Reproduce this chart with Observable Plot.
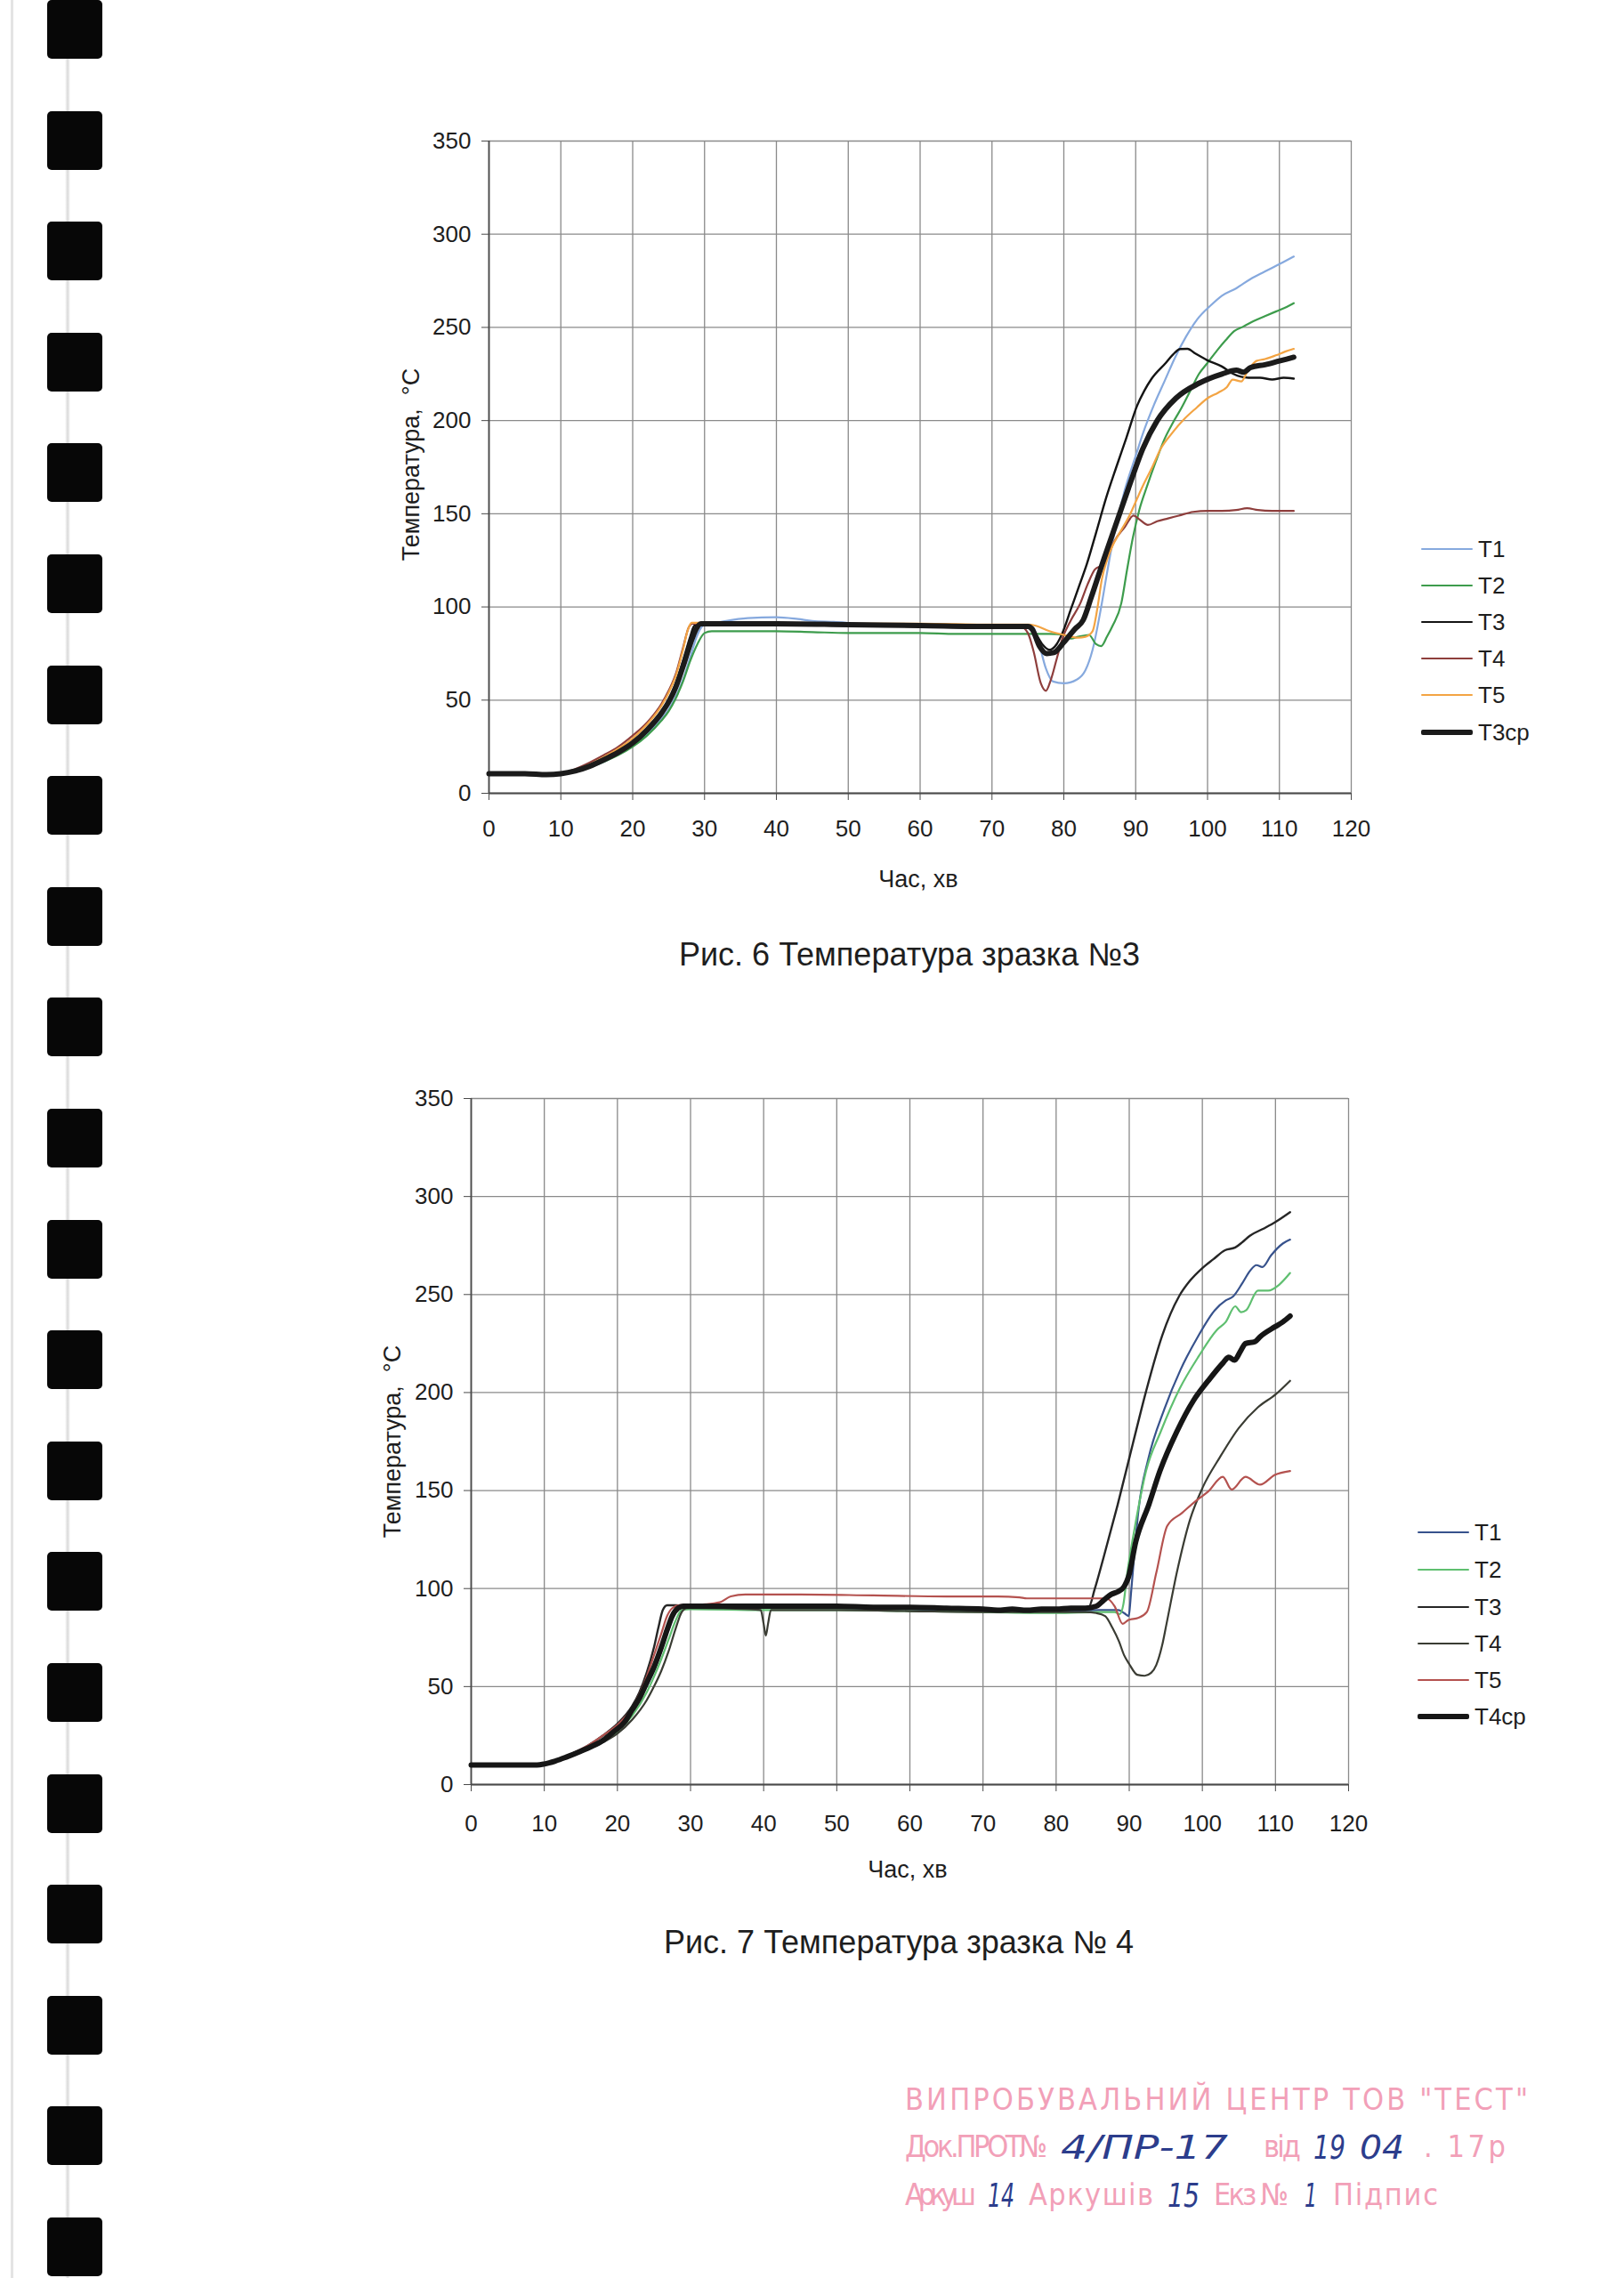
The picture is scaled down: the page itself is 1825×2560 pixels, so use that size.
<!DOCTYPE html>
<html>
<head>
<meta charset="utf-8">
<script src="https://cdn.jsdelivr.net/npm/d3@7"></script>
<script src="https://cdn.jsdelivr.net/npm/@observablehq/plot@0.6"></script>
<style>
  body { margin: 0; background: #fff; }
  #page { position: relative; width: 1825px; height: 2560px; overflow: hidden; background: #fff;
          font-family: "Liberation Sans", Arial, sans-serif; color: #1e1e1e; }
  .hole { position: absolute; left: 53px; width: 62px; height: 66px; background: #070707; border-radius: 5px; }
  .txt { position: absolute; white-space: pre; transform: translate(-50%, -50%); }
  .leg { position: absolute; white-space: nowrap; font-size: 26px; transform: translateY(-50%); }
  .legline { position: absolute; }
  .chart { position: absolute; }
</style>
</head>
<body>
<div id="page"></div>
<script>
// ---------- tick labels ----------
const xTicks = [0, 10, 20, 30, 40, 50, 60, 70, 80, 90, 100, 110, 120];
const yTicks = [0, 50, 100, 150, 200, 250, 300, 350];

// ---------- Рис. 6 (зразок №3): [час, хв ; температура, °C] ----------
const fig6_T1 = [[0,10.5],[5,10.5],[8,10],[10,10.5],[12,12],[14,14],[16,17],[18,21],[20,25.5],[22,32],[24,40],[25,45],[26,52],[27,61],[28,73],[29,85],[29.8,90],[31,91],[33,92.5],[36,94],[40,94.5],[43,93.5],[45,92.5],[48,92],[52,91],[60,90.5],[70,90],[75.5,90],[76.5,81],[77.5,67],[78.5,60],[80,59],[81.8,61],[83,66],[84,77],[85.2,100],[86,118],[86.9,137],[88.5,163],[90,181],[91,193],[92.5,208],[94,221],[95.5,234],[97,245],[98.5,254],[100.5,262],[102,267],[104,271],[106,276],[108,280],[110,284],[112,288]];
const fig6_T2 = [[0,10.5],[5,10.5],[8,10],[10,10.5],[12,12],[14,14],[16,17],[18,20.5],[20,25],[22,31],[24,39],[25,44],[26,51],[27,60],[28,71],[29,80],[30,86],[31,87],[40,87],[45,86.5],[50,86],[55,86],[60,86],[65,85.5],[70,85.5],[75,85.5],[78,85.5],[80,85],[81,83],[82,84],[83.5,85],[84.5,80],[85.2,79],[86,84],[86.8,90],[88,102],[88.8,120],[89.6,137],[90.5,152],[91.6,165],[92.8,178],[94,190],[95.2,199],[96.4,207],[97.6,216],[98.8,225],[100,231],[101.3,237.5],[102.5,243],[103.7,248],[105,250.5],[106.5,253.5],[108,256],[109.5,258.5],[111,261],[112,263]];
const fig6_T3 = [[0,10.5],[5,10.5],[8,10],[10,10.5],[12,12],[14,14.5],[16,18],[18,22.5],[20,27.5],[22,35],[24,44],[25,50],[26,59],[27,71],[28,84],[28.6,90],[30,90.5],[40,90.5],[50,90],[60,89.5],[70,89],[75,89],[76,86],[77,80],[78,77],[79,80],[79.8,86],[81,99],[82.2,112],[83.2,123],[84.5,140],[85.9,158.7],[87.3,175],[88.7,190.7],[90.2,208],[91.2,216],[92.2,222.4],[94.2,231],[95.2,235.5],[96.2,238.4],[97.2,238.5],[98.3,236],[99.9,232.5],[102,229],[103.6,225],[105.7,223],[107.3,223],[109,222],[110.6,223],[112,222.5]];
const fig6_T4 = [[0,10.5],[5,10.5],[8,10],[10,10.5],[12,13],[14,16.5],[16,20.5],[18,25],[20,31],[22,38],[24,48],[25,55],[26,64],[27,78],[27.8,89],[28.3,91],[30,91],[40,91],[50,90.5],[60,90],[70,89.5],[74,89.5],[75,86],[75.8,76],[76.8,59],[77.5,55],[78.2,61],[79,72],[79.8,83],[81,93],[82.3,102],[83.3,112],[84.3,120],[85.5,123],[86.2,128],[87,135],[88.5,143],[89.7,149],[90.5,147],[91.7,144],[93,146],[94.5,147.5],[96,149],[98,151],[100,151.5],[102,151.5],[104,152],[105.5,153],[107,152],[109,151.5],[112,151.5]];
const fig6_T5 = [[0,10.5],[5,10.5],[8,10],[10,10.5],[12,12.5],[14,15.5],[16,19.5],[18,24],[20,29.5],[22,37],[24,47],[25,54],[26,63],[27,77],[27.7,88],[28.2,91.5],[30,91.5],[40,91.5],[50,91],[60,91],[70,90.5],[75,90.5],[76,90],[78,87],[80,85],[82,83.5],[83,84],[84,87],[84.7,100],[85.3,115],[86,125],[86.8,133],[87.5,138],[89,148],[91,165],[92.3,175],[93.5,185],[95,193],[96.8,201],[98.5,207],[100,212],[101.5,215],[102.7,218],[103.5,222],[104.7,221],[105.5,226],[106.8,232],[108,233],[109.5,235],[110.8,237],[112,238.5]];
const fig6_T3cp = [[0,10.5],[5,10.5],[8,10],[10,10.5],[12,12],[14,14.5],[16,18],[18,22],[20,27],[22,34],[24,43],[25,49],[26,57],[27,68],[28,80],[28.8,88],[29.5,91],[31,91],[40,91],[50,90.5],[60,90],[70,89.5],[75,89.5],[75.6,88],[76.6,79],[77.6,75],[78.6,75.5],[80,81],[81.5,88],[82.7,93],[83.8,105],[85.6,126],[87.4,146],[89.2,166],[91,185],[93,200],[95.6,212],[98.8,220],[102,225],[104,227],[105,226],[106,228.5],[108,230],[110,232],[112,234]];

// ---------- Рис. 7 (зразок №4) ----------
const fig7_T1 = [[0,10],[5,10],[9,10],[10,10.5],[13,14],[16,19],[18,23],[20,28.5],[22,37],[24,50],[25,58],[26,68],[27,79],[28,88],[28.8,90.5],[30,90.5],[40,90.5],[50,90],[60,89.5],[70,88.5],[80,88.5],[86,89],[88.5,89],[89.3,87.5],[89.9,86],[90.3,100],[90.7,118],[91.3,141],[92.6,166],[94.8,191.5],[97,211.5],[99.4,228.6],[101.7,242],[103.2,247],[104.2,249],[105.5,256],[106.5,262],[107.4,265],[108.2,264],[109.4,270],[111,276],[112,278]];
const fig7_T2 = [[0,10],[5,10],[9,10],[10,10.5],[13,14],[16,18.5],[18,22],[20,27],[22,35],[24,47],[25,55],[26,64],[27,74],[28,84],[28.8,89],[30,89.5],[40,89],[50,89],[60,88.5],[70,88],[80,87.5],[86,88],[88,88],[88.7,87],[89.2,92],[89.7,107],[90.8,132],[92.3,160],[94.3,180],[96.9,202],[99.5,218.5],[102,232],[103.2,236],[104.5,244],[105.3,241],[106,242],[107.6,252],[109,252],[110.5,255],[112,261]];
const fig7_T3 = [[0,10],[5,10],[9,10],[10,10.5],[13,14.5],[16,20],[18,25],[20,31],[22,40],[23,47],[24,57],[25,70],[25.6,80],[26.2,89],[26.8,91.5],[28,91.5],[30,91],[40,91],[50,90.5],[60,90],[70,89.5],[80,89],[84.4,90],[85.3,100],[86.5,116],[88.4,142.5],[90.5,174],[92.3,200.6],[94.5,229],[96.8,249],[98.3,257],[100,263.5],[101.5,268],[103.1,272.6],[104.5,274],[105.5,276.8],[106.5,280],[108.3,283.5],[110,287],[112,292]];
const fig7_T4 = [[0,10],[5,10],[9,10],[10,10.5],[13,13.5],[16,18],[18,21.5],[20,26],[22,33],[24,43],[25,50],[26,58],[27,68],[28,80],[28.8,88],[29.5,90],[31,90],[38,89.5],[39.6,89],[40,82],[40.3,76],[40.6,82],[41,89],[50,89],[60,88.5],[70,88],[80,88],[84,88],[85.5,87.5],[86.7,86],[87.7,80],[88.6,73],[89.3,66],[90,61.5],[91.1,56],[92.1,55.5],[93,57],[93.7,61],[94.5,71],[95.1,82],[96.5,108],[98.3,135],[100.1,152],[102.4,167],[105,182],[107.6,192.5],[110,199],[112,206]];
const fig7_T5 = [[0,10],[5,10],[9,10],[10,10.5],[13,14.5],[16,20],[18,25],[20,30.5],[22,39],[23,46],[24,55],[25,66],[26,77],[26.8,86],[27.5,90],[28.5,91.5],[32,92],[34,93],[35.5,96],[37.5,97],[45,97],[55,96.5],[65,96],[72,96],[75,95.5],[76,95],[86.8,95],[88,91],[89.1,82],[89.9,84],[91.2,85],[92.4,88],[93.7,108],[95.2,132],[97.2,138.5],[99.2,145],[100.8,149.5],[102.8,157],[104,150.5],[105.9,157],[107.9,153],[109.9,158],[112,160]];
const fig7_T4cp = [[0,10],[5,10],[9,10],[10,10.5],[11.5,12],[13,14],[15,17],[16.5,19.5],[18,22.5],[19.5,27],[21,32],[22,38],[23,44],[24,52],[25,60],[26,70],[26.8,79],[27.5,86],[28.3,90],[29,91],[30,91],[40,91],[50,91],[55,90.5],[60,90.5],[65,90],[70,89.5],[72,89],[74,89.5],[76,89],[78,89.5],[80,89.5],[82,90],[84,90],[85.5,91],[86.5,94],[87.5,97],[88.5,98.5],[89.3,101],[89.9,106],[90.9,124],[92.7,143],[94.2,160],[96.5,180],[98.8,196],[100.8,206],[102.8,215],[103.6,218],[104.4,216.5],[105.2,221],[105.9,225],[107.2,226],[107.9,228.5],[109.9,233.5],[111,236],[112,239]];

// ---------- series names / colours ----------
const fig6_names = ["T1", "T2", "T3", "T4", "T5", "T3ср"];
const fig6_colors = ["#86a9de", "#3d9c4c", "#141414", "#8e3e3c", "#f3a443", "#1b1b1b"];
const fig7_names = ["T1", "T2", "T3", "T4", "T5", "T4ср"];
const fig7_colors = ["#37528c", "#5fbf70", "#262626", "#3a3c33", "#b4524f", "#161616"];
const widths = [2.2, 2.2, 2.4, 2.2, 2.2, 6];

const page = document.getElementById("page");

// binding holes and scan edge (decoration)
const edge = document.createElement("div");
edge.style.cssText = "position:absolute;left:12px;top:0;width:3px;height:2560px;background:#e4e4e4";
page.appendChild(edge);
const stripe = document.createElement("div");
stripe.style.cssText = "position:absolute;left:73px;top:0;width:6px;height:2560px;background:linear-gradient(90deg,#fff,#d9d9d9,#fff)";
page.appendChild(stripe);
for (let k = 0; k < 21; k++) {
  const h = document.createElement("div");
  h.className = "hole";
  h.style.top = (k * 124.6) + "px";
  page.appendChild(h);
}

function addText(txt, x, y, size, rotate) {
  const d = document.createElement("div");
  d.className = "txt";
  d.textContent = txt;
  d.style.left = x + "px";
  d.style.top = y + "px";
  d.style.fontSize = size + "px";
  if (rotate) d.style.transform = "translate(-50%,-50%) rotate(-90deg)";
  page.appendChild(d);
}

function makeChart(cfg) {
  const marks = [
    Plot.gridX({ticks: xTicks, stroke: "#8a8a8a", strokeOpacity: 1, strokeWidth: 1.3}),
    Plot.gridY({ticks: yTicks, stroke: "#8a8a8a", strokeOpacity: 1, strokeWidth: 1.3}),
    Plot.ruleX([0], {stroke: "#4a4a4a", strokeWidth: 1.8}),
    Plot.ruleY([0], {stroke: "#4a4a4a", strokeWidth: 1.8}),
    Plot.axisX({ticks: xTicks, tickSize: 8, tickPadding: cfg.xPad, label: null, stroke: "#4a4a4a", fontSize: 26}),
    Plot.axisY({ticks: yTicks, tickSize: 8, tickPadding: 12, label: null, stroke: "#4a4a4a", fontSize: 26})
  ];
  cfg.series.forEach((s, i) => {
    marks.push(Plot.line(s, {x: d => d[0], y: d => d[1], stroke: cfg.colors[i], strokeWidth: widths[i],
      curve: "monotone-x", strokeLinejoin: "round", strokeLinecap: "round"}));
  });
  const svg = Plot.plot({
    width: cfg.width, height: cfg.height,
    marginLeft: cfg.mL, marginRight: cfg.mR, marginTop: cfg.mT, marginBottom: cfg.mB,
    x: {domain: [0, 120]},
    y: {domain: [0, 350]},
    style: {fontSize: "26px", fontFamily: "'Liberation Sans', Arial, sans-serif", color: "#1e1e1e", background: "transparent", overflow: "visible"},
    marks
  });
  svg.classList.add("chart");
  svg.style.left = cfg.left + "px";
  svg.style.top = cfg.top + "px";
  page.appendChild(svg);

  // legend
  cfg.names.forEach((n, i) => {
    const y = cfg.legY[i];
    const ln = document.createElement("div");
    ln.className = "legline";
    ln.style.left = cfg.legX + "px";
    ln.style.width = "58px";
    ln.style.top = (y - widths[i] / 2) + "px";
    ln.style.height = widths[i] + "px";
    ln.style.background = cfg.colors[i];
    ln.style.borderRadius = "2px";
    page.appendChild(ln);
    const t = document.createElement("div");
    t.className = "leg";
    t.textContent = n;
    t.style.left = (cfg.legX + 64) + "px";
    t.style.top = y + "px";
    page.appendChild(t);
  });
  addText("Час, хв", cfg.xTitle[0], cfg.xTitle[1], 27);
  addText("Температура,  °C", cfg.yTitle[0], cfg.yTitle[1], 27, true);
  addText(cfg.caption, cfg.cap[0], cfg.cap[1], 36);
}

makeChart({
  series: [fig6_T1, fig6_T2, fig6_T3, fig6_T4, fig6_T5, fig6_T3cp],
  names: fig6_names, colors: fig6_colors,
  left: 380, top: 110, width: 1170, height: 870, mL: 169, mR: 32, mT: 48, mB: 89, xPad: 22,
  legX: 1597, legY: [617, 658, 699, 740, 781, 823],
  xTitle: [1032, 988], yTitle: [462, 522], cap: [1022, 1073],
  caption: "Рис. 6 Температура зразка №3"
});
makeChart({
  series: [fig7_T1, fig7_T2, fig7_T3, fig7_T4, fig7_T5, fig7_T4cp],
  names: fig7_names, colors: fig7_colors,
  left: 360, top: 1190, width: 1190, height: 880, mL: 169, mR: 35, mT: 44, mB: 65, xPad: 26,
  legX: 1593, legY: [1722, 1764, 1806, 1847, 1888, 1929],
  xTitle: [1020, 2101], yTitle: [441, 1620], cap: [1010, 2183],
  caption: "Рис. 7 Температура зразка № 4"
});

// stamp (text)
const NS = "http://www.w3.org/2000/svg";
const st = document.createElementNS(NS, "svg");
st.setAttribute("width", 1825); st.setAttribute("height", 2560);
st.style.cssText = "position:absolute;left:0;top:0;pointer-events:none";
page.appendChild(st);
function stamp(txt, x, y, len, hand) {
  const t = document.createElementNS(NS, "text");
  t.textContent = txt;
  t.setAttribute("x", x); t.setAttribute("y", y);
  t.setAttribute("textLength", len);
  if (hand) {
    t.setAttribute("lengthAdjust", "spacingAndGlyphs");
    t.setAttribute("fill", "#2c3d8c");
    t.setAttribute("font-family", "'DejaVu Sans', sans-serif");
    t.setAttribute("font-weight", "200");
    t.setAttribute("font-style", "italic");
    t.setAttribute("font-size", 38);
  } else {
    t.setAttribute("lengthAdjust", "spacing");
    t.setAttribute("fill", "#f2a0b8");
    t.setAttribute("font-family", "'DejaVu Sans Condensed', 'Liberation Sans', sans-serif");
    t.setAttribute("font-size", 34);
  }
  st.appendChild(t);
}
stamp("ВИПРОБУВАЛЬНИЙ  ЦЕНТР  ТОВ  \"ТЕСТ\"", 1017, 2371, 700);
stamp("Док.ПРОТ№", 1017, 2424, 160);
stamp("4/ПР-17", 1192, 2426, 188, true);
stamp("від", 1420, 2424, 42);
stamp("19", 1476, 2426, 36, true);
stamp("04", 1528, 2426, 50, true);
stamp(". 17р", 1600, 2424, 92);
stamp("Аркуш", 1017, 2478, 80);
stamp("14", 1110, 2480, 30, true);
stamp("Аркушів", 1156, 2478, 140);
stamp("15", 1312, 2480, 36, true);
stamp("Екз №", 1364, 2478, 84);
stamp("1", 1466, 2480, 14, true);
stamp("Підпис", 1498, 2478, 118);
</script>
</body>
</html>
